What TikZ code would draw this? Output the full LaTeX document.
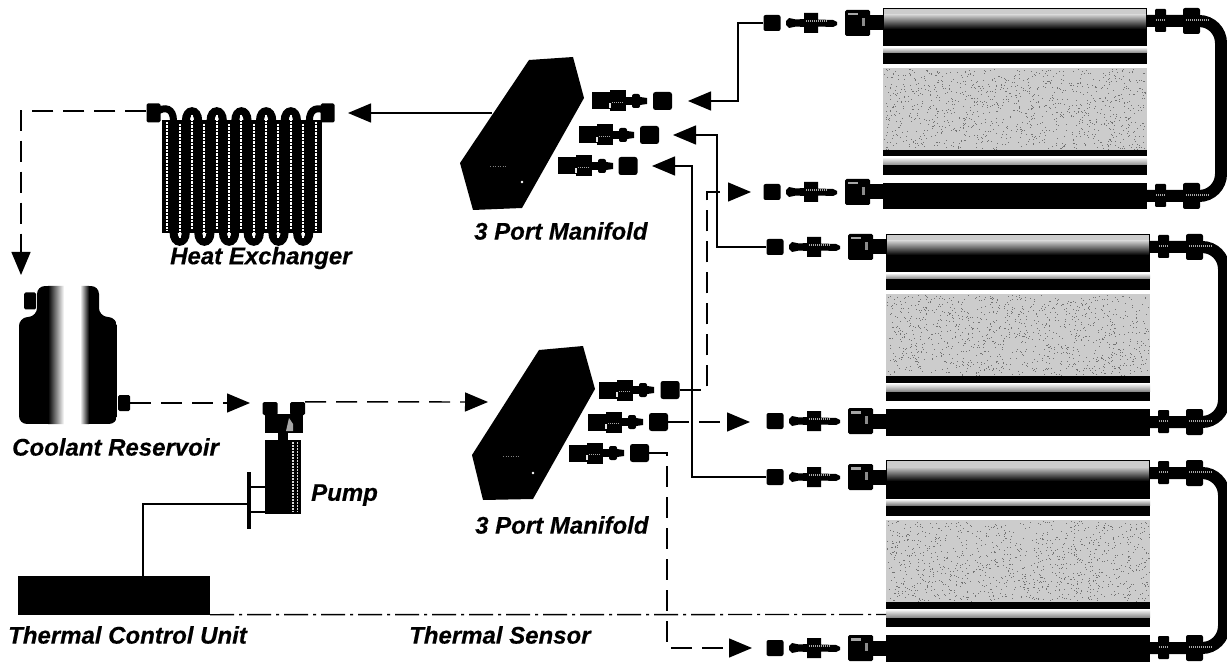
\documentclass[tikz,border=0pt]{standalone}
\usepackage{fontspec}
\setmainfont[BoldItalicFeatures={FakeBold=0.4}]{Liberation Sans}
\usetikzlibrary{arrows.meta}
\tikzset{
  x=1pt,y=-1pt,
  lbl/.style={font=\fontsize{24}{24}\selectfont\bfseries\itshape,inner sep=0pt,text=black},
  flowbase/.style={line width=1.4pt,-{Triangle[length=23pt,width=19pt]},black},
  flowsolid/.style={flowbase},
  flowdash/.style={flowbase,dash pattern=on 21pt off 10pt},
  wire/.style={line width=1.4pt,black},
  sensorline/.style={line width=1.4pt,black,dash pattern=on 24pt off 5pt on 3pt off 5pt},
  blk/.style={fill=black,inner sep=0pt},
  sock/.style={blk,rectangle,rounded corners=2pt,minimum width=17pt,minimum height=16pt},
  sockb/.style={blk,rectangle,rounded corners=2.5pt,minimum width=19pt,minimum height=18pt},
  capfit/.style={blk,rectangle,rounded corners=1.5pt,minimum width=14pt,minimum height=19pt},
  pics/manfit/.style={code={
    \fill[black] (0,-8.5) rectangle (18,8.5);
    \fill[black] (18,-10.5) rectangle (34,10.5);
    \fill[black] (34,-4) rectangle (40,4);
    \fill[black,rounded corners=2pt] (40,-7) rectangle (48,7);
    \fill[black] (48,-4) -- (55,-3) -- (55,3) -- (48,4) -- cycle;
    \fill[black!10] (16.5,2) rectangle (18.5,7);
    \draw[black!35,line width=1.2pt,dash pattern=on 1pt off 1pt] (20,1.5) -- (31,1.5);
  }},
  pics/platefit/.style={code={
    \fill[black] (0,-2) -- (3,-5) -- (10,-3.5) -- (18,-4) -- (18,-10) -- (32,-10) -- (32,-3.5) -- (47,-3) -- (51,-1) -- (51,2) -- (47,4) -- (32,3.5) -- (32,10) -- (18,10) -- (18,4) -- (10,3.5) -- (3,5) -- (0,2) -- cycle;
    \draw[black!35,line width=1.2pt,dash pattern=on 1pt off 1pt] (20,-2) -- (42,-2);
    \fill[black,rounded corners=1.5pt] (59,-13) rectangle (84,13);
    \fill[black] (82,-7.5) rectangle (98,7.5);
    \fill[black!35] (62,-10) rectangle (72,-7.5);
    \fill[black!45] (76,-5) rectangle (79,3);
  }},
  pics/coldplate/.style={code={
    \fill[black] (0,0) rectangle (264,201.5);
    \fill[black!20] (1,1) rectangle (263,7);
    \shade[top color=black!20,bottom color=black] (1,7) rectangle (263,21);
    \shade[top color=white,bottom color=black!50] (0,39) rectangle (264,45);
    \fill[white] (0,56) rectangle (264,60);
    \fill[black!20] (0,60) rectangle (264,142);
    \pgfmathsetseed{#1}
    \foreach \d in {1,...,1100}{
      \pgfmathsetmacro{\dx}{rnd*262+1}\pgfmathsetmacro{\dy}{rnd*80+61}
      \fill[black!55] (\dx,\dy) rectangle +(1,1);
    }
    \shade[top color=white,bottom color=black!45] (0,149) rectangle (264,157);
    \fill[white] (0,167) rectangle (264,175);
    % return tube on the right
    \draw[black,line width=12pt,rounded corners=22pt] (263,13) -- (338,13) -- (338,188) -- (263,188);
    \foreach \fy in {13,188}{
      \fill[black,rounded corners=1pt] (272,\fy-12) rectangle (283,\fy+11);
      \fill[black,rounded corners=2pt] (300,\fy-13) rectangle (317,\fy+13);
      \draw[black!35,line width=1.2pt,dash pattern=on 1pt off 1pt] (273,\fy-1) -- (282,\fy-1);
      \draw[black!35,line width=1.2pt,dash pattern=on 1pt off 1pt] (303,\fy-1) -- (326,\fy-1);
    }
  }},
}
\begin{document}
\begin{tikzpicture}
\useasboundingbox (0,0) rectangle (1227,663);
\fill[white] (0,0) rectangle (1227,663);

% cold plates
\pic at (883,8) {coldplate=11};
\pic at (886,234) {coldplate=22};
\pic at (886,460) {coldplate=33};

% plate-side fittings
\pic at (786,23) {platefit};
\pic at (786,192) {platefit};
\pic at (789,247) {platefit};
\pic at (789,421) {platefit};
\pic at (789,477) {platefit};
\pic at (789,648) {platefit};
\node[sock] (p1a) at (772,23) {};
\node[sock] (p1b) at (772,192) {};
\node[sock] (p2a) at (775,247) {};
\node[sock] (p2b) at (775,421) {};
\node[sock] (p3a) at (775,477) {};
\node[sock] (p3b) at (775,648) {};

% manifolds
\fill[black] (529,60) -- (573,57) -- (584,98) -- (522,208) -- (473,210) -- (460,163) -- cycle;
\fill[black] (539,350) -- (583,346) -- (595,389) -- (533,499) -- (483,500) -- (472,455) -- cycle;
\fill[white] (522,182) circle (1.3pt);
\fill[white] (533,473) circle (1.3pt);
\draw[black!50,line width=.8pt,dash pattern=on 1pt off 1.5pt] (490,166) -- (507,166);
\draw[black!50,line width=.8pt,dash pattern=on 1pt off 1.5pt] (503,456) -- (520,456);
\pic at (592,101) {manfit};
\pic at (579,135) {manfit};
\pic at (558,166) {manfit};
\pic at (599,390) {manfit};
\pic at (588,422) {manfit};
\pic at (569,453) {manfit};
\node[sockb] (t1) at (662.5,101) {};
\node[sockb] (t2) at (649.5,135) {};
\node[sockb] (t3) at (628,166) {};
\node[sockb] (b1) at (670,390) {};
\node[sockb] (b2) at (658.5,422) {};
\node[sockb] (b3) at (639.5,453) {};

% heat exchanger
\fill[black] (162,120) rectangle (322,233);
\foreach \k in {0,2,...,10}{
  \pgfmathsetmacro{\xa}{173.5+12.35*\k}
  \pgfmathsetmacro{\xb}{\xa+12.35}
  \draw[black,line width=8pt] (\xa,232) .. controls (\xa,245) and (\xb,245) .. (\xb,232);
  \pgfmathsetmacro{\xm}{(\xa+\xb)/2}
  \draw[white,line width=2pt,dash pattern=on 2.5pt off 1pt] (\xm,124) -- (\xm,238);
}
\foreach \k in {1,3,...,9}{
  \pgfmathsetmacro{\xa}{173.5+12.35*\k}
  \pgfmathsetmacro{\xb}{\xa+12.35}
  \draw[black,line width=8pt] (\xa,121) .. controls (\xa,108) and (\xb,108) .. (\xb,121);
  \pgfmathsetmacro{\xm}{(\xa+\xb)/2}
  \draw[white,line width=2pt,dash pattern=on 2.5pt off 1pt] (\xm,115) -- (\xm,229);
}
\foreach \xm in {167.3,316.2}{
  \draw[white,line width=2pt,dash pattern=on 2.5pt off 1pt] (\xm,122) -- (\xm,231);
}
\draw[black,line width=7pt] (156,112) .. controls (165,106) and (173.5,108) .. (173.5,121);
\draw[black,line width=7pt] (309.35,121) .. controls (309.35,108) and (318,106) .. (328,112);
\node[capfit] (hxl) at (153.5,113) {};
\node[capfit] (hxr) at (327.5,113) {};

% coolant reservoir
\begin{scope}
  \clip[rounded corners=8pt] (37,286) -- (99,286) -- (99,316) -- (117,318) -- (117,424) -- (19,424) -- (19,318) -- (37,316) -- cycle;
  \fill[black] (19,286) rectangle (117,424);
  \shade[left color=black,right color=white] (48,286) rectangle (64,424);
  \fill[white] (64,286) rectangle (80,424);
  \shade[left color=white,right color=black] (80,286) rectangle (89,424);
\end{scope}
\node[capfit,minimum width=12pt,minimum height=17pt] (resl) at (30,301) {};
\node[capfit,minimum width=12pt,minimum height=16pt] (resf) at (124,403) {};

% pump
\node[capfit,minimum width=15pt,minimum height=13pt] (pl) at (270,408.5) {};
\node[capfit,minimum width=15pt,minimum height=13pt] (pr) at (297.5,408.5) {};
\fill[black] (265,414) rectangle (303,433);
\fill[black] (278,433) rectangle (288,440);
\fill[black] (265,440) rectangle (301,514);
\draw[black!15,line width=1.4pt,dash pattern=on 2pt off 1pt] (293,442) -- (293,512);
\draw[black!15,line width=1pt,dash pattern=on 2pt off 1pt] (297.5,442) -- (297.5,512);
\fill[black!35] (289,418) -- (293,424) -- (293,431) -- (286,431) -- cycle;
\node[blk,rectangle,minimum width=4.5pt,minimum height=57pt] (pbar) at (249,500.5) {};
\draw[black,line width=2.5pt] (pbar.east |- 0,487) -- (265,487);
\draw[black,line width=2.5pt] (pbar.east |- 0,512) -- (265,512);

% thermal control unit
\node[blk,rectangle,minimum width=192pt,minimum height=38.5pt] (tcu) at (114,595.25) {};

% named bends and arrow ends
\coordinate (a1) at (688,101);
\coordinate (a2) at (673,135);
\coordinate (a3) at (652,166);
\coordinate (a4) at (348,113);
\coordinate (a5) at (21,275);
\coordinate (a6) at (250,403);
\coordinate (a7) at (488,402);
\coordinate (d1) at (751,192);
\coordinate (d2) at (750,422);
\coordinate (d3) at (752,648);
\coordinate (k1) at (738,101);
\coordinate (k2) at (717,135);
\coordinate (k3) at (692,166);
\coordinate (k4) at (707,192);
\coordinate (k5) at (667,648);
\coordinate (k6) at (143,504);
\coordinate (k7) at (21,111);
\coordinate (mw) at (492,113);
\coordinate (ts) at (886,614.5);

% connectors
\draw[flowsolid] (p1a.west) -| (k1) -- (a1);
\draw[flowsolid] (p2a.west) -| (k2) -- (a2);
\draw[flowsolid] (p3a.west) -| (k3) -- (a3);
\draw[flowsolid] (mw) -- (a4);
\draw[flowdash] (hxl.west |- k7) -- (k7) -- (a5);
\draw[flowdash] (resf.east) -- (a6);
\draw[flowdash] (pr.north east) -- (a7);
\draw[flowdash] (b1.east) -| (k4) -- (d1);
\draw[flowdash] (b2.east) -- (d2);
\draw[flowdash] (b3.east) -| (k5) -- (d3);
\draw[wire] (k6 |- tcu.north) -- (k6) -- (k6 -| pbar.west);
\draw[sensorline] (tcu.south east) -- (ts);

% labels
\node[lbl,anchor=west] (lhx) at (170,258) {Heat Exchanger};
\node[lbl,anchor=west] (lm1) at (474,231) {3 Port Manifold};
\node[lbl,anchor=west] (lm2) at (475,525) {3 Port Manifold};
\node[lbl,anchor=west] (lres) at (12,447) {Coolant Reservoir};
\node[lbl,anchor=west] (lpump) at (311,495) {Pump};
\node[lbl,anchor=west] (ltcu) at (8,635) {Thermal Control Unit};
\node[lbl,anchor=west] (lts) at (409,635) {Thermal Sensor};
\end{tikzpicture}
\end{document}
